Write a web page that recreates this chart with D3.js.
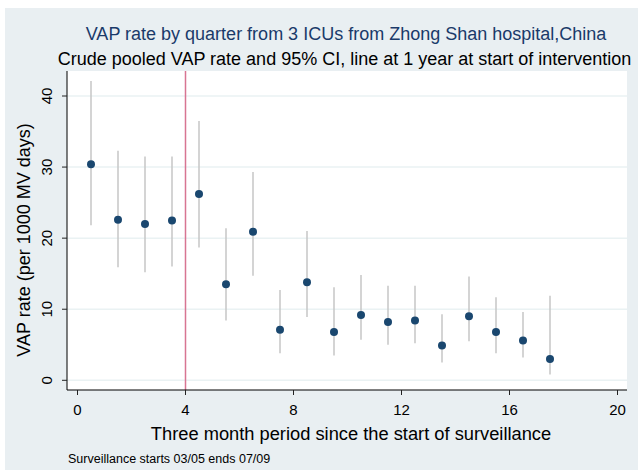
<!DOCTYPE html>
<html>
<head>
<meta charset="utf-8">
<script src="https://cdn.jsdelivr.net/npm/d3@7"></script>
<style>
  html, body { margin: 0; padding: 0; background: #fff; }
  svg { display: block; font-family: "Liberation Sans", Arial, sans-serif; }
</style>
</head>
<body>
<div id="chart"></div>
<script>
// quarter midpoints and crude pooled VAP rates with 95% CI
const quarters = [0.5, 1.5, 2.5, 3.5, 4.5, 5.5, 6.5, 7.5, 8.5, 9.5, 10.5, 11.5, 12.5, 13.5, 14.5, 15.5, 16.5, 17.5];
const rates = [30.4, 22.6, 22.0, 22.5, 26.2, 13.5, 20.9, 7.1, 13.8, 6.8, 9.2, 8.2, 8.4, 4.9, 9.0, 6.8, 5.6, 3.0];
const ciLow = [21.8, 15.9, 15.2, 16.0, 18.7, 8.4, 14.7, 3.8, 8.9, 3.5, 5.7, 5.0, 5.2, 2.5, 5.5, 3.8, 3.2, 0.8];
const ciHigh = [42.1, 32.3, 31.5, 31.5, 36.5, 21.4, 29.3, 12.7, 21.0, 13.1, 14.8, 13.3, 13.3, 9.3, 14.6, 11.7, 9.6, 11.9];
const xTicks = [0, 4, 8, 12, 16, 20];
const yTicks = [0, 10, 20, 30, 40];
const interventionAt = 4;

const width = 638, height = 470;
const plot = { left: 67, right: 627, top: 71, bottom: 390 };

const svg = d3.select("#chart").append("svg")
    .attr("width", width)
    .attr("height", height);

// graph region background
svg.append("rect").attr("x", 5).attr("y", 8)
    .attr("width", width - 5).attr("height", height - 8)
    .attr("fill", "#e9eff2");

// plot region
svg.append("rect").attr("x", plot.left).attr("y", plot.top)
    .attr("width", plot.right - plot.left).attr("height", plot.bottom - plot.top)
    .attr("fill", "#fff");

const x = d3.scaleLinear().domain([0, 20]).range([77.5, 617.5]);
const y = d3.scaleLinear().domain([0, 40]).range([380.3, 96]);

// gridlines
svg.append("g").selectAll("line")
    .data(yTicks)
    .join("line")
    .attr("x1", plot.left).attr("x2", plot.right)
    .attr("y1", d => y(d)).attr("y2", d => y(d))
    .attr("stroke", "#eaf2f3").attr("stroke-width", 1.5);

// intervention line
svg.append("line")
    .attr("x1", x(interventionAt)).attr("x2", x(interventionAt))
    .attr("y1", plot.top).attr("y2", plot.bottom)
    .attr("stroke", "#d87592").attr("stroke-width", 1.5);

const data = quarters.map((q, i) => ({ q, rate: rates[i], lo: ciLow[i], hi: ciHigh[i] }));

// CI spikes
svg.append("g").selectAll("line")
    .data(data)
    .join("line")
    .attr("x1", d => x(d.q)).attr("x2", d => x(d.q))
    .attr("y1", d => y(d.lo)).attr("y2", d => y(d.hi))
    .attr("stroke", "#c6c6c6").attr("stroke-width", 1.5);

// points
svg.append("g").selectAll("circle")
    .data(data)
    .join("circle")
    .attr("cx", d => x(d.q)).attr("cy", d => y(d.rate))
    .attr("r", 4)
    .attr("fill", "#1a476f");

// x axis
const xAxis = svg.append("g").attr("transform", `translate(0,${plot.bottom})`);
xAxis.append("line").attr("x1", plot.left).attr("x2", plot.right)
    .attr("stroke", "#000").attr("stroke-width", 1);
xAxis.selectAll(".tick")
    .data(xTicks)
    .join("line")
    .attr("x1", d => x(d)).attr("x2", d => x(d))
    .attr("y1", 0).attr("y2", 5)
    .attr("stroke", "#222").attr("stroke-width", 1);
xAxis.selectAll("text")
    .data(xTicks)
    .join("text")
    .attr("x", d => x(d)).attr("y", 24.5)
    .attr("text-anchor", "middle")
    .attr("font-size", 15)
    .attr("fill", "#000")
    .text(d => d);

// y axis
const yAxis = svg.append("g").attr("transform", `translate(${plot.left},0)`);
yAxis.append("line").attr("y1", plot.top).attr("y2", plot.bottom)
    .attr("stroke", "#000").attr("stroke-width", 1);
yAxis.selectAll(".tick")
    .data(yTicks)
    .join("line")
    .attr("y1", d => y(d)).attr("y2", d => y(d))
    .attr("x1", -5).attr("x2", 0)
    .attr("stroke", "#222").attr("stroke-width", 1);
yAxis.selectAll("text")
    .data(yTicks)
    .join("text")
    .attr("transform", d => `translate(-15,${y(d)}) rotate(-90)`)
    .attr("text-anchor", "middle")
    .attr("font-size", 15)
    .attr("fill", "#000")
    .text(d => d);

// titles
svg.append("text")
    .attr("x", 346).attr("y", 39.5)
    .attr("text-anchor", "middle")
    .attr("font-size", 18)
    .attr("fill", "#1a3a6a")
    .text("VAP rate by quarter from 3 ICUs from Zhong Shan hospital,China");
svg.append("text")
    .attr("x", 344.5).attr("y", 64.5)
    .attr("text-anchor", "middle")
    .attr("font-size", 18)
    .attr("fill", "#000")
    .text("Crude pooled VAP rate and 95% CI, line at 1 year at start of intervention");

svg.append("text")
    .attr("x", 351).attr("y", 440)
    .attr("text-anchor", "middle")
    .attr("font-size", 18.3)
    .attr("fill", "#000")
    .text("Three month period since the start of surveillance");

svg.append("text")
    .attr("transform", "translate(30,240) rotate(-90)")
    .attr("text-anchor", "middle")
    .attr("font-size", 18)
    .attr("fill", "#000")
    .text("VAP rate (per 1000 MV days)");

svg.append("text")
    .attr("x", 68).attr("y", 462.5)
    .attr("font-size", 12.5)
    .attr("fill", "#000")
    .text("Surveillance starts 03/05 ends 07/09");
</script>
</body>
</html>
